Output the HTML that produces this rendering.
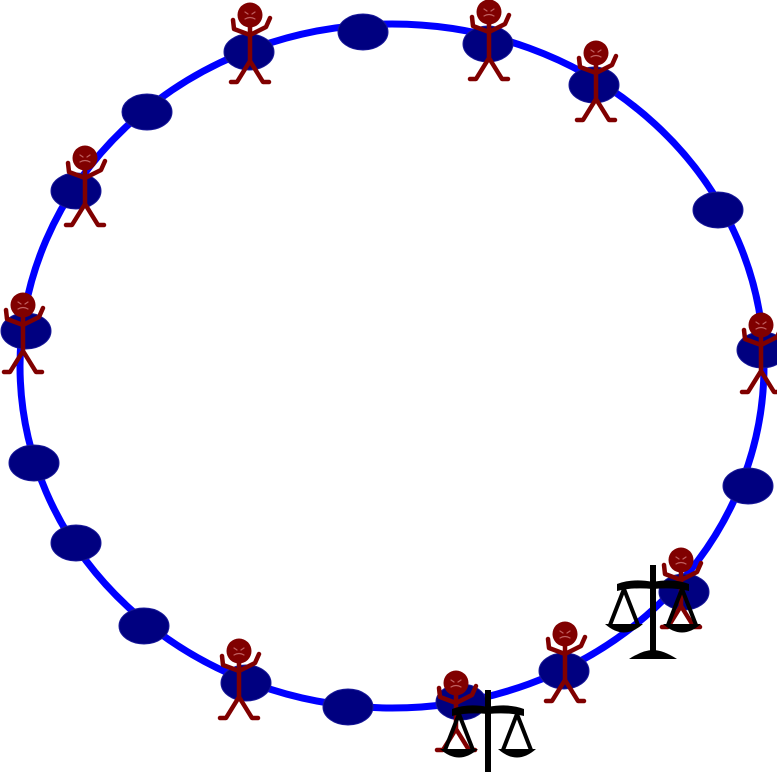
<!DOCTYPE html>
<html><head><meta charset="utf-8"><style>
html,body{margin:0;padding:0;background:#fff;}
svg{display:block;}
</style></head><body>
<svg id="c" width="777" height="772" viewBox="0 0 777 772" xmlns="http://www.w3.org/2000/svg">
<ellipse cx="392" cy="366" rx="372" ry="342" fill="none" stroke="#0000ff" stroke-width="7"/>
<g id="seats"></g>
<g id="people"></g>
<g id="scales"></g>
</svg>
<script>
const seatX=[363,249,488,594,147,76,718,26,762,34,748,76,144,684,564,246,348,461];
const seatY=[32,52,44,85,112,191,210,331,350,463,486,543,626,592,671,683,707,702];
const personX=[250,489,596,85,23,761,681,565,239,456];
const personY=[15,12,53,158,305,325,560,634,651,683];
const scaleX=[653,488];
const scaleY=[615,740];
const NS="http://www.w3.org/2000/svg";
function mk(t,a,p){const e=document.createElementNS(NS,t);for(const k in a)e.setAttribute(k,a[k]);p.appendChild(e);return e;}
const seats=document.getElementById('seats');
for(let i=0;i<seatX.length;i++){
  const e=mk('ellipse',{cx:seatX[i],cy:seatY[i],rx:25,ry:18,fill:'#000080',stroke:'#1a1a9a','stroke-width':1},seats);
  
  
}
const people=document.getElementById('people');
for(let i=0;i<personX.length;i++){
  const x=personX[i],y=personY[i];
  const g=mk('g',{transform:`translate(${x},${y})`,stroke:'#800000','stroke-width':4.5,fill:'none','stroke-linecap':'round','stroke-linejoin':'round'},people);
  
  
  mk('circle',{cx:0,cy:0,r:12.5,fill:'#800000',stroke:'none'},g);
  mk('path',{d:'M0,12 L0,46 M-17,5 L-16,14 L0,20 L16,12 L20,3 M0,46 L-13,67 L-19,67 M0,46 L13,67 L19,67'},g);
  mk('path',{d:'M-5,-3 l3,2 M5,-3 l-3,2 M-5,4 q5,-3 10,0',stroke:'#c06060','stroke-width':1.2},g);
}
const scales=document.getElementById('scales');
for(let i=0;i<scaleX.length;i++){
  const g=mk('g',{transform:`translate(${scaleX[i]},${scaleY[i]})`,fill:'#000',stroke:'#000'},scales);
  
  
  mk('rect',{x:-3,y:-50,width:6,height:92,stroke:'none'},g);
  mk('path',{d:'M-36,-31 Q-20,-37 0,-33 Q20,-37 36,-31 L36,-24 Q20,-28 0,-26 Q-20,-28 -36,-24Z',stroke:'none'},g);
  mk('path',{d:'M-29,-26 L-43,10 M-29,-26 L-15,10 M29,-26 L15,10 M29,-26 L43,10',fill:'none','stroke-width':4},g);
  mk('path',{d:'M-48,9 L-10,9 Q-29,26 -48,9Z M10,9 L48,9 Q29,26 10,9Z',stroke:'none'},g);
  mk('path',{d:'M-24,44 Q-10,35 0,35 Q10,35 24,44Z',stroke:'none'},g);
}
</script>
</body></html>
